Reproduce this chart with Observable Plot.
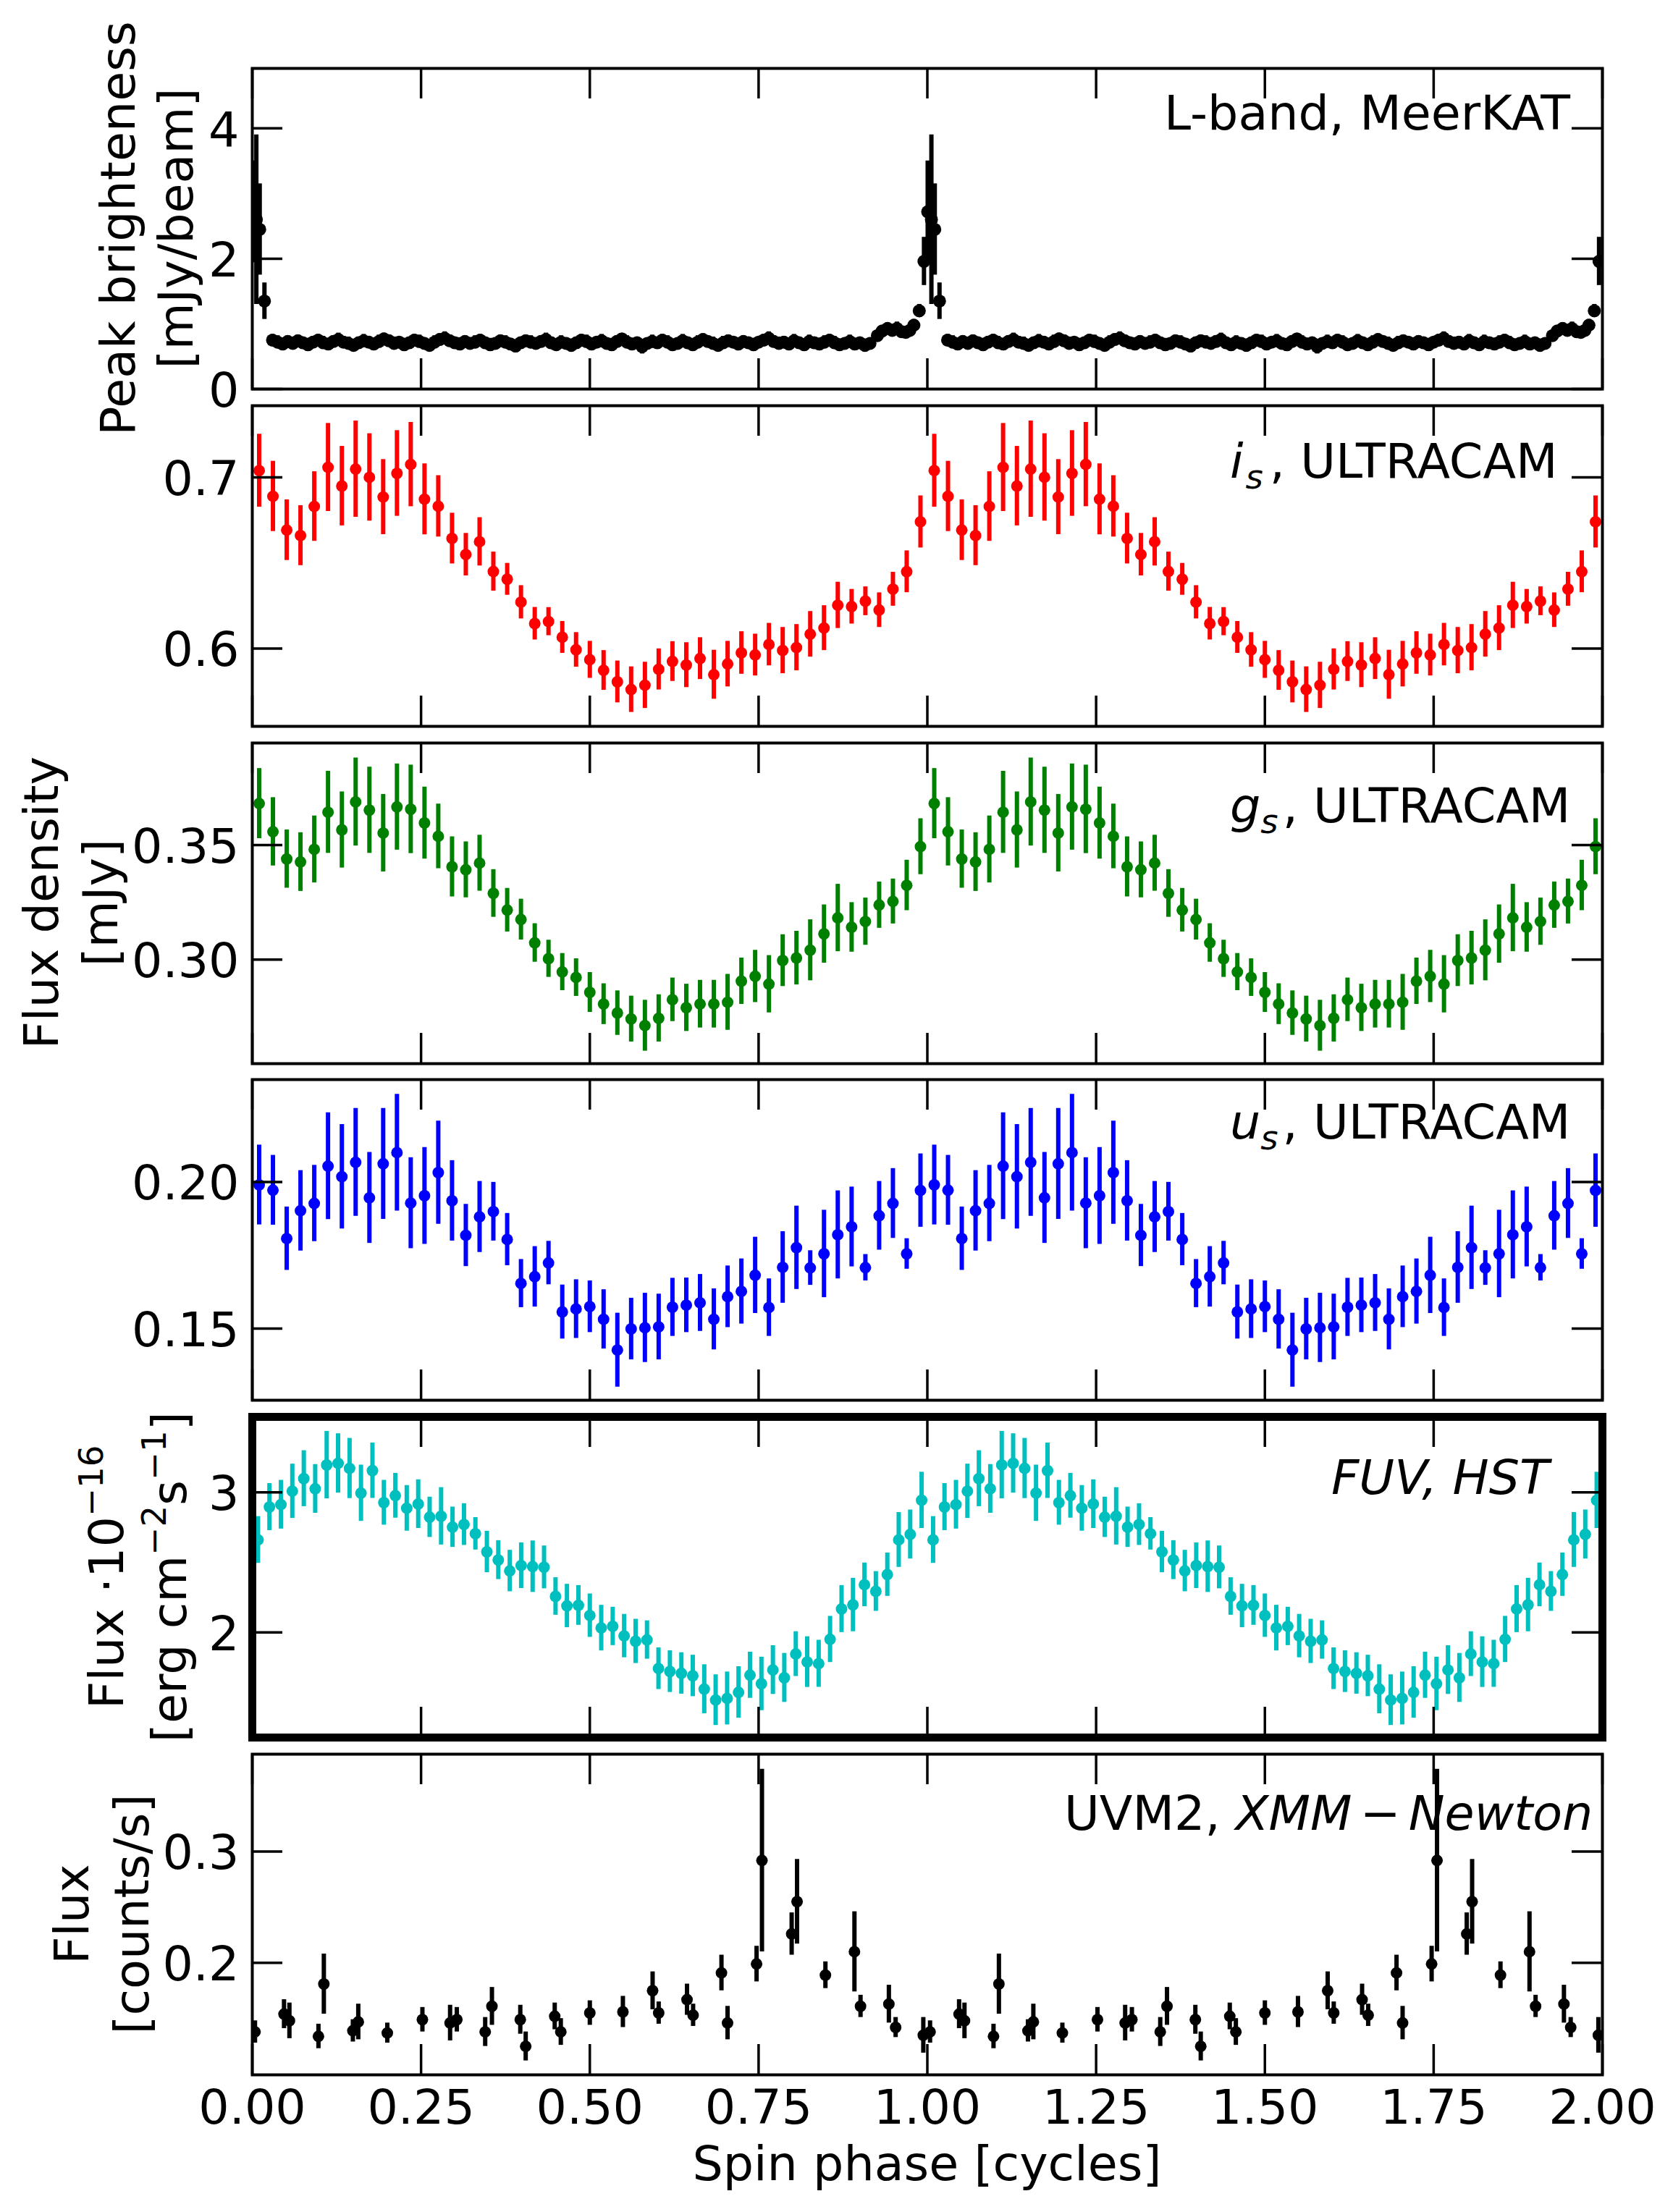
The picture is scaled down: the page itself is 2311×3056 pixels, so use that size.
<!DOCTYPE html>
<html><head><meta charset="utf-8">
<script src="https://cdn.jsdelivr.net/npm/d3@7"></script>
<script src="https://cdn.jsdelivr.net/npm/@observablehq/plot@0.6"></script>
<style>
html,body{margin:0;padding:0;background:#fff;}
#wrap{position:relative;width:2311px;height:3056px;background:#fff;overflow:hidden;}
#wrap svg{position:absolute;left:0;}
</style></head><body><div id="wrap"></div>
<script>
// ---------------- data (one spin cycle; plotted twice) ----------------
const xTicks = [0, 0.25, 0.5, 0.75, 1, 1.25, 1.5, 1.75, 2];

// Radio, L-band MeerKAT
const radioPhase = [0.0005,0.006,0.011,0.018,
 0.0300,0.0375,0.0450,0.0525,0.0600,0.0675,0.0750,0.0825,0.0900,0.0975,
 0.1050,0.1125,0.1200,0.1275,0.1350,0.1425,0.1500,0.1575,0.1650,0.1725,
 0.1800,0.1875,0.1950,0.2025,0.2100,0.2175,0.2250,0.2325,0.2400,0.2475,
 0.2550,0.2625,0.2700,0.2775,0.2850,0.2925,0.3000,0.3075,0.3150,0.3225,
 0.3300,0.3375,0.3450,0.3525,0.3600,0.3675,0.3750,0.3825,0.3900,0.3975,
 0.4050,0.4125,0.4200,0.4275,0.4350,0.4425,0.4500,0.4575,0.4650,0.4725,
 0.4800,0.4875,0.4950,0.5025,0.5100,0.5175,0.5250,0.5325,0.5400,0.5475,
 0.5550,0.5625,0.5700,0.5775,0.5850,0.5925,0.6000,0.6075,0.6150,0.6225,
 0.6300,0.6375,0.6450,0.6525,0.6600,0.6675,0.6750,0.6825,0.6900,0.6975,
 0.7050,0.7125,0.7200,0.7275,0.7350,0.7425,0.7500,0.7575,0.7650,0.7725,
 0.7800,0.7875,0.7950,0.8025,0.8100,0.8175,0.8250,0.8325,0.8400,0.8475,
 0.8550,0.8625,0.8700,0.8775,0.8850,0.8925,0.9000,0.9075,0.9150,
 0.926,0.933,0.941,0.948,0.955,0.962,0.968,0.974,0.980,0.988,0.995];
const radioFlux = [2.72,2.60,2.45,1.35,
 0.75,0.72,0.69,0.73,0.70,0.74,0.71,0.68,0.72,0.75,
 0.71,0.69,0.73,0.76,0.72,0.70,0.67,0.71,0.74,0.72,
 0.69,0.73,0.77,0.74,0.70,0.72,0.68,0.71,0.75,0.73,
 0.70,0.67,0.72,0.76,0.78,0.74,0.71,0.69,0.73,0.70,
 0.72,0.75,0.71,0.68,0.70,0.74,0.72,0.69,0.66,0.71,
 0.74,0.72,0.70,0.73,0.76,0.71,0.68,0.72,0.70,0.67,
 0.71,0.75,0.73,0.69,0.72,0.74,0.70,0.68,0.73,0.77,
 0.72,0.69,0.71,0.65,0.70,0.73,0.71,0.75,0.72,0.68,
 0.70,0.74,0.71,0.68,0.72,0.76,0.73,0.70,0.67,0.71,
 0.74,0.72,0.69,0.73,0.71,0.68,0.72,0.75,0.78,0.73,
 0.70,0.72,0.69,0.74,0.71,0.68,0.73,0.71,0.69,0.72,
 0.75,0.71,0.68,0.70,0.73,0.69,0.71,0.67,0.70,
 0.82,0.89,0.93,0.90,0.93,0.88,0.87,0.90,0.98,1.20,1.96];
const radioErr = [0.78,1.30,0.70,0.28,
 0.09,0.10,0.08,0.09,0.10,0.09,0.08,0.10,0.09,0.09,
 0.10,0.08,0.09,0.10,0.09,0.10,0.08,0.09,0.10,0.09,
 0.08,0.10,0.09,0.09,0.10,0.08,0.10,0.09,0.09,0.10,
 0.09,0.08,0.10,0.09,0.10,0.09,0.08,0.10,0.09,0.09,
 0.10,0.09,0.08,0.10,0.09,0.09,0.10,0.08,0.10,0.09,
 0.09,0.10,0.08,0.09,0.10,0.09,0.08,0.10,0.09,0.10,
 0.08,0.09,0.10,0.09,0.08,0.10,0.09,0.10,0.09,0.08,
 0.10,0.09,0.09,0.11,0.08,0.10,0.09,0.09,0.10,0.08,
 0.09,0.10,0.08,0.09,0.10,0.09,0.08,0.10,0.09,0.10,
 0.09,0.08,0.10,0.09,0.09,0.10,0.08,0.09,0.10,0.09,
 0.10,0.09,0.08,0.10,0.09,0.09,0.10,0.08,0.09,0.10,
 0.09,0.10,0.08,0.09,0.10,0.09,0.08,0.10,0.09,
 0.08,0.08,0.09,0.08,0.10,0.08,0.08,0.08,0.09,0.10,0.37];

// ULTRACAM bins
const ucamPhase = [0.0102,0.0306,0.0510,0.0714,0.0918,0.1122,0.1327,0.1531,0.1735,0.1939,0.2143,0.2347,0.2551,0.2755,0.2959,0.3163,0.3367,0.3571,0.3776,0.3980,0.4184,0.4388,0.4592,0.4796,0.5000,0.5204,0.5408,0.5612,0.5816,0.6020,0.6224,0.6429,0.6633,0.6837,0.7041,0.7245,0.7449,0.7653,0.7857,0.8061,0.8265,0.8469,0.8673,0.8878,0.9082,0.9286,0.9490,0.9694,0.9898];
const iFlux = [0.7039,0.6889,0.6692,0.6660,0.6830,0.7058,0.6949,0.7048,0.7000,0.6885,0.7023,0.7075,0.6872,0.6831,0.6643,0.6549,0.6624,0.6450,0.6405,0.6271,0.6146,0.6158,0.6066,0.5993,0.5935,0.5873,0.5806,0.5761,0.5786,0.5879,0.5925,0.5904,0.5942,0.5848,0.5910,0.5975,0.5963,0.6024,0.5989,0.6006,0.6084,0.6120,0.6253,0.6245,0.6277,0.6225,0.6347,0.6449,0.6740];
const iErr = [0.0213,0.0205,0.0177,0.0175,0.0203,0.0257,0.0232,0.0281,0.0255,0.0219,0.0250,0.0246,0.0207,0.0179,0.0148,0.0124,0.0141,0.0114,0.0093,0.0097,0.0095,0.0082,0.0093,0.0101,0.0108,0.0116,0.0122,0.0133,0.0135,0.0120,0.0116,0.0131,0.0122,0.0143,0.0133,0.0124,0.0122,0.0124,0.0135,0.0135,0.0133,0.0131,0.0135,0.0101,0.0084,0.0101,0.0099,0.0122,0.0152];
const gFlux = [0.3681,0.3558,0.3439,0.3426,0.3481,0.3643,0.3566,0.3688,0.3652,0.3552,0.3666,0.3656,0.3596,0.3538,0.3405,0.3392,0.3421,0.3289,0.3216,0.3175,0.3073,0.3004,0.2946,0.2922,0.2857,0.2806,0.2767,0.2741,0.2712,0.2744,0.2825,0.2790,0.2806,0.2806,0.2814,0.2906,0.2927,0.2893,0.2996,0.3007,0.3041,0.3112,0.3182,0.3141,0.3166,0.3238,0.3254,0.3324,0.3493];
const gErr = [0.0153,0.0149,0.0127,0.0128,0.0146,0.0179,0.0166,0.0192,0.0188,0.0169,0.0188,0.0193,0.0157,0.0141,0.0131,0.0122,0.0122,0.0104,0.0095,0.0089,0.0084,0.0081,0.0081,0.0082,0.0087,0.0089,0.0097,0.0100,0.0111,0.0103,0.0095,0.0103,0.0104,0.0104,0.0122,0.0101,0.0114,0.0125,0.0113,0.0117,0.0133,0.0127,0.0147,0.0108,0.0103,0.0101,0.0098,0.0110,0.0122];
const uFlux = [0.1990,0.1972,0.1807,0.1902,0.1927,0.2054,0.2018,0.2067,0.1946,0.2062,0.2100,0.1928,0.1953,0.2032,0.1936,0.1818,0.1881,0.1899,0.1804,0.1654,0.1677,0.1724,0.1557,0.1567,0.1575,0.1532,0.1427,0.1499,0.1503,0.1506,0.1573,0.1580,0.1588,0.1532,0.1609,0.1627,0.1682,0.1572,0.1709,0.1776,0.1707,0.1755,0.1820,0.1847,0.1708,0.1885,0.1927,0.1755,0.1971];
const uErr = [0.0136,0.0119,0.0108,0.0137,0.0130,0.0182,0.0178,0.0184,0.0155,0.0189,0.0199,0.0155,0.0165,0.0176,0.0137,0.0106,0.0121,0.0100,0.0089,0.0082,0.0103,0.0074,0.0092,0.0100,0.0088,0.0101,0.0126,0.0105,0.0118,0.0112,0.0099,0.0093,0.0097,0.0104,0.0105,0.0111,0.0130,0.0098,0.0122,0.0142,0.0059,0.0149,0.0150,0.0136,0.0045,0.0117,0.0119,0.0052,0.0125];

// FUV, HST
const fuvPhase = [0.0085,0.0254,0.0424,0.0593,0.0763,0.0932,0.1102,0.1271,0.1441,0.1610,0.1780,0.1949,0.2119,0.2288,0.2458,0.2627,0.2797,0.2966,0.3136,0.3305,0.3475,0.3644,0.3814,0.3983,0.4153,0.4322,0.4492,0.4661,0.4831,0.5000,0.5169,0.5339,0.5508,0.5678,0.5847,0.6017,0.6186,0.6356,0.6525,0.6695,0.6864,0.7034,0.7203,0.7373,0.7542,0.7712,0.7881,0.8051,0.8220,0.8390,0.8559,0.8729,0.8898,0.9068,0.9237,0.9407,0.9576,0.9746,0.9915];
const fuvFlux = [2.661,2.896,2.913,3.009,3.099,3.026,3.196,3.208,3.172,2.995,3.156,2.927,2.977,2.887,2.917,2.823,2.830,2.752,2.771,2.705,2.575,2.517,2.439,2.477,2.470,2.465,2.257,2.189,2.193,2.120,2.031,2.043,1.974,1.936,1.946,1.741,1.720,1.707,1.689,1.594,1.516,1.528,1.571,1.694,1.632,1.731,1.675,1.845,1.788,1.776,1.950,2.167,2.196,2.340,2.293,2.413,2.661,2.700,2.944];
const fuvErr = [0.167,0.168,0.174,0.194,0.200,0.174,0.241,0.212,0.215,0.201,0.198,0.160,0.160,0.163,0.174,0.144,0.205,0.144,0.149,0.116,0.148,0.139,0.148,0.163,0.184,0.153,0.134,0.155,0.142,0.155,0.163,0.137,0.155,0.158,0.137,0.149,0.149,0.148,0.148,0.175,0.181,0.189,0.184,0.165,0.191,0.174,0.175,0.160,0.181,0.168,0.165,0.168,0.191,0.156,0.142,0.155,0.196,0.175,0.201];

// UVM2, XMM-Newton
const uvmPhase = [0.004,0.047,0.055,0.098,0.106,0.149,0.157,0.200,0.252,0.293,0.303,0.345,0.355,0.397,0.405,0.448,0.457,0.500,0.549,0.593,0.602,0.644,0.653,0.695,0.704,0.747,0.755,0.799,0.807,0.849,0.892,0.901,0.943,0.953,0.994];
const uvmFlux = [0.138,0.154,0.148,0.134,0.181,0.139,0.147,0.137,0.149,0.146,0.149,0.138,0.161,0.149,0.125,0.152,0.138,0.155,0.156,0.175,0.155,0.167,0.153,0.191,0.146,0.199,0.292,0.226,0.255,0.189,0.210,0.161,0.163,0.142,0.135];
const uvmErr = [0.010,0.013,0.016,0.011,0.027,0.010,0.016,0.009,0.011,0.016,0.011,0.013,0.017,0.013,0.013,0.012,0.012,0.011,0.014,0.017,0.010,0.014,0.010,0.016,0.015,0.016,0.082,0.019,0.038,0.012,0.036,0.010,0.017,0.009,0.016];

// y-axis domains and ticks
const radioY = [0, 4.92],      radioTicks = [0, 2, 4];
const iY = [0.5546, 0.7418],   iTicks = [0.6, 0.7];
const gY = [0.2546, 0.3945],   gTicks = [0.30, 0.35];
const uY = [0.1256, 0.2349],   uTicks = [0.15, 0.20];
const fuvY = [1.248, 3.54],    fuvTicks = [2, 3];
const uvmY = [0.0994, 0.3875], uvmTicks = [0.2, 0.3];

// ---------------- layout ----------------
const W = 2311, H = 3056;
const FL = 348, FR = 2213;
const PH = 443, PITCH = 465.8, TOP0 = 94, PAD = 14;
const FONT = "'DejaVu Sans', sans-serif";
const FS = 66.7;
const TICK = 42;

function twoCycles(phase, flux, err) {
  const rows = phase.map((p, i) => ({phase: p, flux: flux[i], err: err[i]}));
  return rows.concat(rows.map(r => ({...r, phase: r.phase + 1})));
}

const panels = [
  {data: twoCycles(radioPhase, radioFlux, radioErr), color: "#000000", y: radioY, ticks: radioTicks, fmt: d3.format("d"), frame: 4, r: 9},
  {data: twoCycles(ucamPhase, iFlux, iErr), color: "#ff0000", y: iY, ticks: iTicks, fmt: d3.format(".1f"), frame: 4, r: 8},
  {data: twoCycles(ucamPhase, gFlux, gErr), color: "#008000", y: gY, ticks: gTicks, fmt: d3.format(".2f"), frame: 4, r: 8},
  {data: twoCycles(ucamPhase, uFlux, uErr), color: "#0000ff", y: uY, ticks: uTicks, fmt: d3.format(".2f"), frame: 4, r: 8},
  {data: twoCycles(fuvPhase, fuvFlux, fuvErr), color: "#00bfbf", y: fuvY, ticks: fuvTicks, fmt: d3.format("d"), frame: 11, r: 8},
  {data: twoCycles(uvmPhase, uvmFlux, uvmErr), color: "#000000", y: uvmY, ticks: uvmTicks, fmt: d3.format(".1f"), frame: 4, r: 8}
];

const wrap = document.getElementById("wrap");
const fw = FR - FL;

panels.forEach((p, i) => {
  const top = TOP0 + PITCH * i;
  const last = i === panels.length - 1;
  const mb = last ? H - (top + PH) : PAD;
  const marks = [
    Plot.ruleX(p.data, {x: "phase", y1: d => d.flux - d.err, y2: d => d.flux + d.err, stroke: p.color, strokeWidth: 6, clip: true}),
    Plot.dot(p.data, {x: "phase", y: "flux", r: p.r, fill: p.color, clip: true}),
    Plot.tickX(xTicks, {x: d => d, insetBottom: PH - TICK, stroke: "black", strokeWidth: 3.5}),
    Plot.tickX(xTicks, {x: d => d, insetTop: PH - TICK, stroke: "black", strokeWidth: 3.5}),
    Plot.tickY(p.ticks, {y: d => d, insetRight: fw - TICK, stroke: "black", strokeWidth: 3.5}),
    Plot.tickY(p.ticks, {y: d => d, insetLeft: fw - TICK, stroke: "black", strokeWidth: 3.5}),
    Plot.axisY(p.ticks, {anchor: "left", tickSize: 0, tickPadding: 18, tickFormat: p.fmt, label: null, dy: 3}),
    Plot.frame({stroke: "black", strokeWidth: p.frame})
  ];
  if (last) {
    marks.push(Plot.axisX(xTicks, {anchor: "bottom", tickSize: 0, tickPadding: 20, tickFormat: d3.format(".2f"), label: null}));
  }
  const svg = Plot.plot({
    width: W,
    height: PH + PAD + mb,
    marginTop: PAD, marginBottom: mb, marginLeft: FL, marginRight: W - FR,
    x: last ? {domain: [0, 2]} : {domain: [0, 2], axis: null},
    y: {domain: p.y},
    style: {fontFamily: FONT, fontSize: FS + "px", color: "black", background: "transparent", overflow: "visible"},
    marks
  });
  svg.style.top = (top - PAD) + "px";
  wrap.appendChild(svg);
});

// ---------------- text overlay (labels, annotations) ----------------
const ov = d3.select(wrap).append("svg")
  .attr("width", W).attr("height", H)
  .style("position", "absolute").style("top", "0px").style("left", "0px")
  .attr("font-family", FONT).attr("font-size", FS).attr("fill", "black");

function rich(x, y, segs, {anchor = "start", rotate = false} = {}) {
  const t = ov.append("text")
    .attr("text-anchor", anchor)
    .attr("transform", rotate ? `translate(${x},${y}) rotate(-90)` : `translate(${x},${y})`);
  let cur = 0;
  for (const s of segs) {
    const shift = s.sub ? 0.22 * FS : s.sup ? -0.42 * FS : 0;
    const ts = t.append("tspan").text(s.t).attr("dy", shift - cur);
    cur = shift;
    if (s.it) ts.attr("font-style", "italic");
    if (s.sub || s.sup) ts.attr("font-size", 0.7 * FS);
    if (s.dx) ts.attr("dx", s.dx);
  }
  return t;
}
const N = t => ({t});
const I = t => ({t, it: true});

const mid = i => TOP0 + PITCH * i + PH / 2;

// y labels
rich(186, mid(0), [N("Peak brighteness")], {anchor: "middle", rotate: true});
rich(266, mid(0), [N("[mJy/beam]")], {anchor: "middle", rotate: true});
rich(80, mid(2), [N("Flux density")], {anchor: "middle", rotate: true});
rich(162, mid(2), [N("[mJy]")], {anchor: "middle", rotate: true});
rich(170, mid(4), [N("Flux \u00b710"), {t: "\u221216", sup: true}], {anchor: "middle", rotate: true});
rich(257, mid(4), [N("[erg cm"), {t: "\u22122", sup: true}, N("s"), {t: "\u22121", sup: true}, N("]")], {anchor: "middle", rotate: true});
rich(122, mid(5), [N("Flux")], {anchor: "middle", rotate: true});
rich(205, mid(5), [N("[counts/s]")], {anchor: "middle", rotate: true});

// annotations
rich(1608, 179, [N("L-band, MeerKAT")]);
rich(1699, 660, [I("i"), {t: "s", it: true, sub: true, dx: 3}, {t: ", ULTRACAM", dx: 9}]);
rich(1699, 1136, [I("g"), {t: "s", it: true, sub: true}, {t: ", ULTRACAM", dx: 6}]);
rich(1699, 1573, [I("u"), {t: "s", it: true, sub: true}, {t: ", ULTRACAM", dx: 6}]);
rich(1839, 2064, [I("FUV, HST")]);
rich(1470, 2528, [N("UVM2, "), I("XMM"), N("\u2006\u2212\u2006"), I("Newton")]);

// x label
rich((FL + FR) / 2, 3012, [N("Spin phase [cycles]")], {anchor: "middle"});
</script></body></html>
